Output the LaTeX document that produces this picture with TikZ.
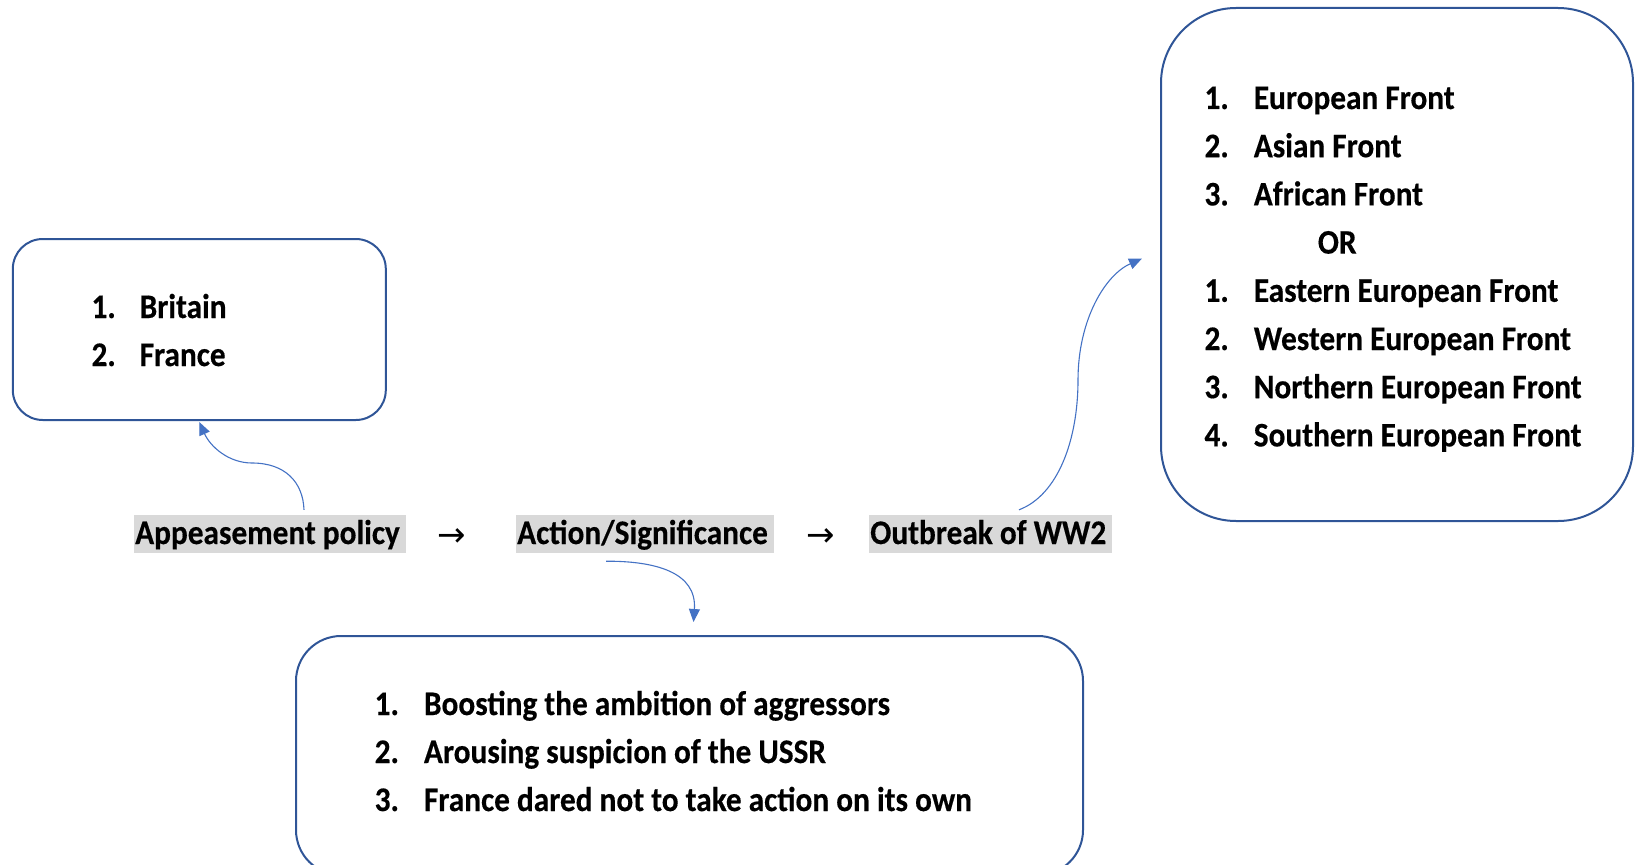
\documentclass[tikz,border=0pt]{standalone}
\usepackage{graphicx}
\usepackage{fontspec}
\setmainfont{Carlito}[BoldFeatures={FakeBold=0.4}]
\newfontfamily\symfont{DejaVu Sans}
\usetikzlibrary{arrows.meta,calc}
\definecolor{boxblue}{HTML}{2F5597}
\definecolor{arrblue}{HTML}{4472C4}
\definecolor{hlgray}{HTML}{D9D9D9}
\newcommand{\tallt}[1]{\scalebox{1}[1.1]{#1}}
\newcommand{\hlt}[1]{\scalebox{1}[1.1]{#1}\kern5pt}
\begin{document}
\begin{tikzpicture}[x=1pt,y=-1pt,
  txt/.style={font=\fontsize{31.3}{37}\selectfont\bfseries, inner sep=0pt, anchor=base west},
  hlnode/.style={txt, fill=hlgray, text height=29pt, text depth=9pt, inner xsep=1pt},
  sym/.style={font=\symfont\fontsize{34}{40}\selectfont, inner sep=0pt, anchor=base west},
  roundbox/.style={draw=boxblue, line width=2pt, rectangle, inner sep=0pt},
  conn/.style={draw=arrblue, line width=1.1pt, -{Triangle[length=13pt,width=11pt]}}]
\useasboundingbox (0,0) rectangle (1645,864);

% boxes
\node[roundbox, rounded corners=30pt, minimum width=373pt, minimum height=181pt] (lbox) at (199.3,329.5) {};
\node[roundbox, rounded corners=75pt, minimum width=472pt, minimum height=513pt] (rbox) at (1397,264.5) {};
\node[roundbox, rounded corners=45pt, minimum width=787pt, minimum height=239pt] (bbox) at (689.5,755.5) {};

% left box list
\node[txt] (l1n) at (91.3,318) {\tallt{1.}};
\node[txt] (l1t) at (139.5,318) {\tallt{Britain}};
\node[txt] (l2n) at (91.3,366) {\tallt{2.}};
\node[txt] (l2t) at (139.5,366) {\tallt{France}};

% right box list
\node[txt] (r1n) at (1204.3,109) {\tallt{1.}};
\node[txt] (r1t) at (1253.6,109) {\tallt{European Front}};
\node[txt] (r2n) at (1204.3,157.2) {\tallt{2.}};
\node[txt] (r2t) at (1253.6,157.2) {\tallt{Asian Front}};
\node[txt] (r3n) at (1204.3,205.4) {\tallt{3.}};
\node[txt] (r3t) at (1253.6,205.4) {\tallt{African Front}};
\node[txt] (ror) at (1317.6,253.6) {\tallt{OR}};
\node[txt] (r4n) at (1204.3,301.8) {\tallt{1.}};
\node[txt] (r4t) at (1253.6,301.8) {\tallt{Eastern European Front}};
\node[txt] (r5n) at (1204.3,350) {\tallt{2.}};
\node[txt] (r5t) at (1253.6,350) {\tallt{Western European Front}};
\node[txt] (r6n) at (1204.3,398.2) {\tallt{3.}};
\node[txt] (r6t) at (1253.6,398.2) {\tallt{Northern European Front}};
\node[txt] (r7n) at (1204.3,446.4) {\tallt{4.}};
\node[txt] (r7t) at (1253.6,446.4) {\tallt{Southern European Front}};

% bottom box list
\node[txt] (b1n) at (374.5,715) {\tallt{1.}};
\node[txt] (b1t) at (423.8,715) {\tallt{Boosting the ambition of aggressors}};
\node[txt] (b2n) at (374.5,763) {\tallt{2.}};
\node[txt] (b2t) at (423.8,763) {\tallt{Arousing suspicion of the USSR}};
\node[txt] (b3n) at (374.5,811) {\tallt{3.}};
\node[txt] (b3t) at (423.8,811) {\tallt{France dared not to take action on its own}};

% main row
\node[hlnode] (app) at (134,544) {\hlt{Appeasement policy}};
\node[sym] (ar1) at (437,546) {→};
\node[hlnode] (act) at (516,544) {\hlt{Action/Significance}};
\node[sym] (ar2) at (806,546) {→};
\node[hlnode] (out) at (869,544) {\hlt{Outbreak of WW2}};

% connectors
\coordinate (s1) at ($(app.north west)+(170,-5)$);
\coordinate (m1) at (252,463);
\draw[conn] (s1) .. controls (303,482) and (285,463) .. (m1)
  .. controls (228,463) and (210,446) .. ($(lbox.south)+(0,1)$);

\coordinate (s2) at ($(act.south west)+(90,8)$);
\coordinate (e2) at ($(bbox.north)+(4,-13)$);
\draw[conn] (s2) .. controls (655,561) and (697,572) .. (e2);

\coordinate (s3) at ($(out.north west)+(150,-5)$);
\coordinate (m3) at (1078,380);
\coordinate (e3) at ($(rbox.west)+(-18,-6)$);
\draw[conn] (s3) .. controls (1058,495) and (1078,440) .. (m3)
  .. controls (1078,320) and (1105,275) .. (e3);
\end{tikzpicture}
\end{document}
